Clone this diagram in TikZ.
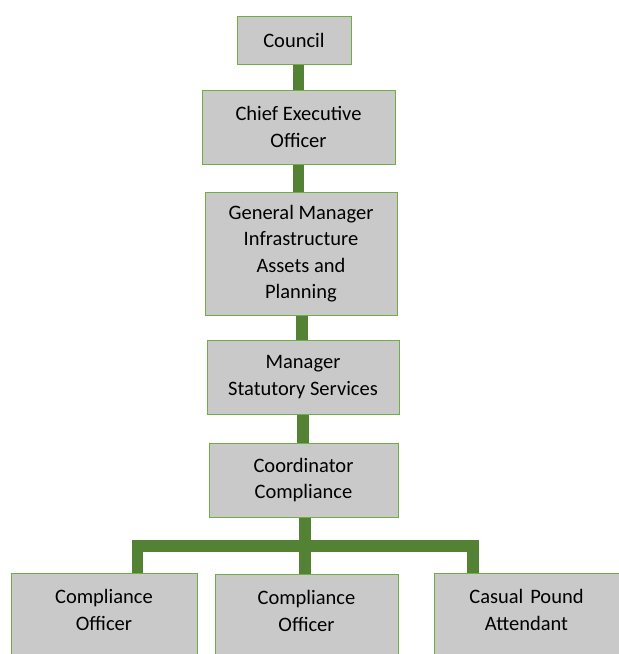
\documentclass[tikz,border=0pt]{standalone}
\usepackage{fontspec}
\setmainfont{Carlito}
\definecolor{boxfill}{HTML}{C9C9C9}
\definecolor{boxline}{HTML}{70AD47}
\definecolor{connc}{HTML}{548235}
\begin{document}
\begin{tikzpicture}[x=1pt,y=-1pt,
  orgbox/.style={draw=boxline,line width=1pt,fill=boxfill,align=center,inner sep=0pt,
    font=\fontsize{20.5pt}{26.5pt}\selectfont},
  leafbox/.style={orgbox,anchor=north,text depth=62pt,text height=30pt},
  conn/.style={draw=connc,line width=11.5pt,line join=miter}]
\useasboundingbox (0,0) rectangle (619,654);
\begin{scope}
\clip (0,0) rectangle (619,654);
\node[orgbox,minimum width=114pt,minimum height=48pt] (council) at (294,40) {Council};
\node[orgbox,minimum width=193pt,minimum height=74pt] (ceo) at (298.5,127) {Chief Executive\\Officer};
\node[orgbox,minimum width=192pt,minimum height=123pt] (gm) at (301,253.5) {General Manager\\Infrastructure\\Assets and\\Planning};
\node[orgbox,minimum width=192pt,minimum height=74pt] (mgr) at (303,377) {Manager\\Statutory Services};
\node[orgbox,minimum width=189pt,minimum height=74pt] (coord) at (303.5,480) {Coordinator\\Compliance};
\node[leafbox,text width=186pt] (co1) at (104,573) {Compliance\\Officer};
\node[leafbox,text width=183pt] (co2) at (306.5,574) {Compliance\\Officer};
\node[leafbox,text width=185pt] (cpa) at (526.5,573) {Casual Pound\\Attendant};
\coordinate (busL) at (137.5,546);
\coordinate (busR) at (473,546);
\draw[conn] (ceo.north |- council.south) -- (ceo.north);
\draw[conn] (ceo.south) -- (ceo.south |- gm.north);
\draw[conn] (302,0 |- gm.south) -- (302,0 |- mgr.north);
\draw[conn] (mgr.south) -- (mgr.south |- coord.north);
\draw[conn] (305,0 |- coord.south) -- (305,0 |- co2.north);
\draw[conn] (busL |- co1.north) -- (busL) -- (busR) -- (busR |- cpa.north);
\end{scope}
\end{tikzpicture}
\end{document}
